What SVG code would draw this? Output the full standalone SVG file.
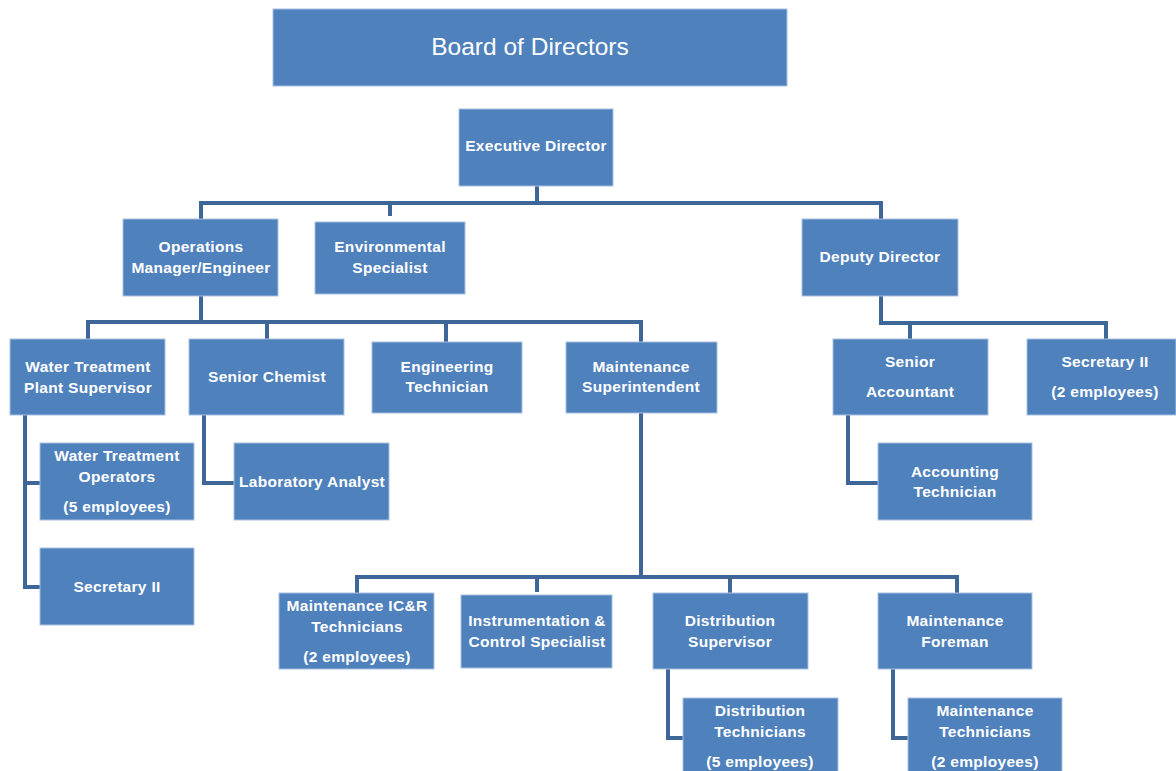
<svg xmlns="http://www.w3.org/2000/svg" width="1176" height="771" viewBox="0 0 1176 771">
<style>
.box{fill:#4f81bd;stroke:#a9c0df;stroke-width:1}
.t{fill:#ffffff;font-family:"Liberation Sans",Arial,sans-serif;font-size:15.5px;font-weight:bold;text-anchor:middle;letter-spacing:0.3px}
.big{font-size:24.5px;font-weight:normal;letter-spacing:0}
.c{fill:none;stroke:#3e6699;stroke-width:4;stroke-linejoin:miter}
</style>
<rect width="1176" height="771" fill="#ffffff"/>
<g id="connectors">
<path class="c" d="M537 186V203M201 219V203H881V219M390 203V216"/>
<path class="c" d="M201 296V322M88 339V322H641V342M267 322V339M446 322V342"/>
<path class="c" d="M881 296V323H1106V339M910 323V339"/>
<path class="c" d="M848 415V483H878"/>
<path class="c" d="M25 415V587H40M25 483H40"/>
<path class="c" d="M204 415V483H234"/>
<path class="c" d="M641 413V577M357 593V577H957V593M537 577V592M730 577V593"/>
<path class="c" d="M668 669V738H683"/>
<path class="c" d="M893 669V738H908"/>
</g>
<g id="board"><rect class="box" x="273" y="9" width="514" height="77"/><text class="t big" x="530" y="55">Board of Directors</text></g>
<g id="exec"><rect class="box" x="459" y="109" width="154" height="77"/><text class="t" x="536" y="151">Executive Director</text></g>
<g id="ops"><rect class="box" x="123" y="219" width="155" height="77"/><text class="t" x="201" y="252">Operations</text><text class="t" x="201" y="273">Manager/Engineer</text></g>
<g id="env"><rect class="box" x="315" y="222" width="150" height="72"/><text class="t" x="390" y="252">Environmental</text><text class="t" x="390" y="273">Specialist</text></g>
<g id="deputy"><rect class="box" x="802" y="219" width="156" height="77"/><text class="t" x="880" y="262">Deputy Director</text></g>
<g id="wtp"><rect class="box" x="10" y="339" width="155" height="76"/><text class="t" x="88" y="372">Water Treatment</text><text class="t" x="88" y="393">Plant Supervisor</text></g>
<g id="chemist"><rect class="box" x="189" y="339" width="155" height="76"/><text class="t" x="267" y="382">Senior Chemist</text></g>
<g id="engtech"><rect class="box" x="372" y="342" width="150" height="71"/><text class="t" x="447" y="372">Engineering</text><text class="t" x="447" y="392">Technician</text></g>
<g id="maintsup"><rect class="box" x="566" y="342" width="151" height="71"/><text class="t" x="641" y="372">Maintenance</text><text class="t" x="641" y="392">Superintendent</text></g>
<g id="senacct"><rect class="box" x="833" y="339" width="155" height="76"/><text class="t" x="910" y="367">Senior</text><text class="t" x="910" y="397">Accountant</text></g>
<g id="sec2b"><rect class="box" x="1027" y="339" width="149" height="76"/><text class="t" x="1105" y="367">Secretary II</text><text class="t" x="1105" y="397">(2 employees)</text></g>
<g id="accttech"><rect class="box" x="878" y="443" width="154" height="77"/><text class="t" x="955" y="477">Accounting</text><text class="t" x="955" y="497">Technician</text></g>
<g id="wtops"><rect class="box" x="40" y="443" width="154" height="77"/><text class="t" x="117" y="461">Water Treatment</text><text class="t" x="117" y="482">Operators</text><text class="t" x="117" y="512">(5 employees)</text></g>
<g id="sec2a"><rect class="box" x="40" y="548" width="154" height="77"/><text class="t" x="117" y="592">Secretary II</text></g>
<g id="lab"><rect class="box" x="234" y="443" width="155" height="77"/><text class="t" x="312" y="487">Laboratory Analyst</text></g>
<g id="icr"><rect class="box" x="279" y="593" width="155" height="76"/><text class="t" x="357" y="611">Maintenance IC&amp;R</text><text class="t" x="357" y="632">Technicians</text><text class="t" x="357" y="662">(2 employees)</text></g>
<g id="instr"><rect class="box" x="461" y="595" width="151" height="73"/><text class="t" x="537" y="626">Instrumentation &amp;</text><text class="t" x="537" y="647">Control Specialist</text></g>
<g id="distsup"><rect class="box" x="653" y="593" width="155" height="76"/><text class="t" x="730" y="626">Distribution</text><text class="t" x="730" y="647">Supervisor</text></g>
<g id="foreman"><rect class="box" x="878" y="593" width="154" height="76"/><text class="t" x="955" y="626">Maintenance</text><text class="t" x="955" y="647">Foreman</text></g>
<g id="disttech"><rect class="box" x="683" y="698" width="155" height="80"/><text class="t" x="760" y="716">Distribution</text><text class="t" x="760" y="737">Technicians</text><text class="t" x="760" y="767">(5 employees)</text></g>
<g id="mainttech"><rect class="box" x="908" y="698" width="154" height="80"/><text class="t" x="985" y="716">Maintenance</text><text class="t" x="985" y="737">Technicians</text><text class="t" x="985" y="767">(2 employees)</text></g>
</svg>
